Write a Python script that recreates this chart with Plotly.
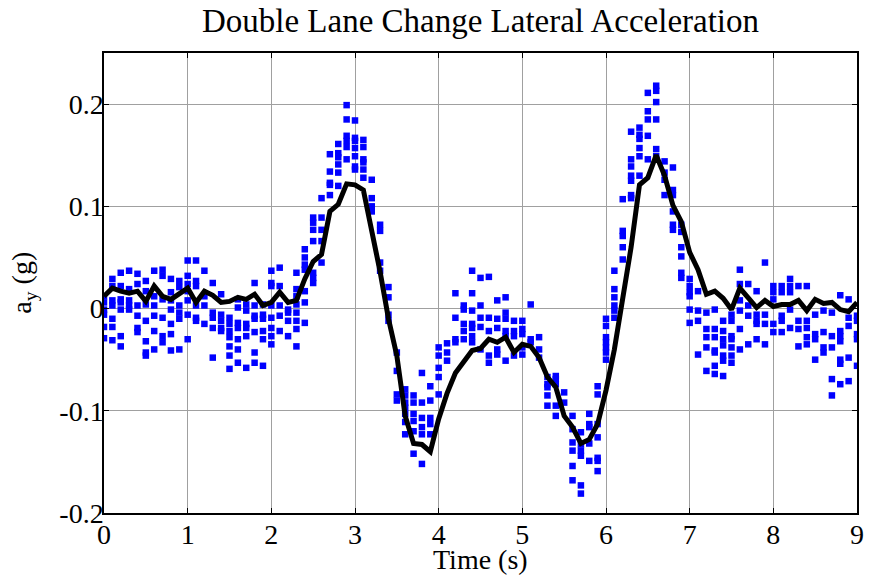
import plotly.graph_objects as go

# Mean lateral acceleration (g), sampled every 0.1 s from 0 to 9 s
mean_time = [round(i * 0.1, 1) for i in range(91)]
mean_ay = [
    0.012, 0.020, 0.017, 0.015, 0.017, 0.007, 0.022, 0.012, 0.009, 0.014,
    0.020, 0.006, 0.017, 0.013, 0.006, 0.007, 0.011, 0.009, 0.014, 0.003,
    0.006, 0.016, 0.006, 0.008, 0.029, 0.046, 0.053, 0.095, 0.102, 0.122,
    0.121, 0.116, 0.078, 0.036, -0.010, -0.046, -0.105, -0.132, -0.133, -0.140,
    -0.108, -0.083, -0.063, -0.051, -0.041, -0.039, -0.030, -0.033, -0.028, -0.043,
    -0.035, -0.037, -0.048, -0.067, -0.077, -0.105, -0.116, -0.132, -0.128, -0.113,
    -0.080, -0.040, 0.008, 0.060, 0.121, 0.128, 0.150, 0.130, 0.101, 0.085,
    0.055, 0.038, 0.014, 0.017, 0.010, -0.001, 0.020, 0.011, 0.001, 0.008,
    0.002, 0.004, 0.004, 0.008, -0.002, 0.009, 0.005, 0.006, -0.001, -0.003,
    0.006,
]

# Individual run samples (g), one list per 0.1 s time step
run_samples = [
    [0.012, 0.006, -0.001, -0.006, -0.018, -0.029],
    [0.029, 0.022, 0.008, 0.003, -0.010, -0.018, -0.031],
    [0.035, 0.022, 0.009, 0.006, -0.001, -0.027, -0.037],
    [0.037, 0.019, 0.008, 0.003, -0.001],
    [0.034, 0.024, 0.003, -0.007, -0.019, -0.023],
    [0.027, 0.017, 0.004, -0.012, -0.032, -0.043, -0.046],
    [0.037, 0.012, 0.003, -0.007, -0.022, -0.040],
    [0.038, 0.032, 0.009, -0.009, -0.027, -0.033],
    [0.029, 0.016, 0.008, -0.001, -0.015, -0.025, -0.041],
    [0.027, 0.021, 0.003, -0.004, -0.010, -0.040],
    [0.047, 0.032, 0.024, 0.017, 0.008, -0.006, -0.030],
    [0.047, 0.027, 0.022, 0.003, -0.009, -0.012],
    [0.037, 0.012, 0.003, -0.015],
    [0.025, -0.004, -0.009, -0.019, -0.048],
    [0.014, -0.006, -0.012, -0.019, -0.022],
    [-0.009, -0.015, -0.022, -0.028, -0.037, -0.046, -0.059],
    [0.009, 0.001, -0.014, -0.019, -0.030, -0.040, -0.053],
    [0.004, -0.002, -0.015, -0.019, -0.027, -0.058],
    [0.025, 0.003, -0.007, -0.010, -0.023, -0.043, -0.053],
    [0.004, -0.006, -0.010, -0.022, -0.030, -0.056],
    [0.037, 0.025, 0.022, 0.003, -0.009, -0.019, -0.027, -0.035],
    [0.040, 0.022, 0.003, -0.007, -0.022],
    [-0.001, -0.004, -0.012, -0.027],
    [0.035, 0.019, 0.012, 0.004, -0.004, -0.012, -0.020, -0.037],
    [0.058, 0.050, 0.043, 0.038, 0.017, 0.006, -0.014],
    [0.089, 0.084, 0.077, 0.066, 0.035, 0.030, 0.025],
    [0.108, 0.089, 0.077, 0.066, 0.045],
    [0.151, 0.134, 0.123, 0.121, 0.111],
    [0.161, 0.152, 0.148, 0.141, 0.133, 0.120],
    [0.199, 0.185, 0.169, 0.164, 0.158, 0.146],
    [0.184, 0.167, 0.164, 0.157, 0.149, 0.139, 0.136],
    [0.165, 0.158, 0.146, 0.143, 0.136, 0.128],
    [0.126, 0.108, 0.100, 0.095],
    [0.082, 0.076, 0.045, 0.037],
    [0.021, 0.011, -0.006, -0.012],
    [-0.043, -0.061, -0.084, -0.090],
    [-0.079, -0.085, -0.092, -0.097, -0.103, -0.111, -0.123],
    [-0.085, -0.092, -0.103, -0.110, -0.120, -0.142],
    [-0.063, -0.092, -0.107, -0.116, -0.123, -0.152],
    [-0.076, -0.090, -0.107, -0.113, -0.123],
    [-0.038, -0.046, -0.058, -0.067, -0.084],
    [-0.034, -0.043, -0.051],
    [0.015, -0.009, -0.030, -0.033],
    [0.003, -0.001, -0.015, -0.022, -0.030],
    [0.037, 0.015, -0.002, -0.015, -0.019, -0.027, -0.033],
    [0.030, 0.003, -0.009, -0.018, -0.040],
    [0.031, -0.009, -0.022, -0.046, -0.053],
    [0.008, -0.010, -0.019, -0.040, -0.045],
    [0.011, -0.004, -0.010, -0.022, -0.027, -0.051],
    [-0.012, -0.022, -0.027, -0.046],
    [-0.012, -0.020, -0.025, -0.038, -0.045],
    [0.004, -0.030, -0.033],
    [-0.028, -0.040, -0.048],
    [-0.067, -0.074, -0.077, -0.085, -0.095],
    [-0.066, -0.069, -0.074, -0.095, -0.105],
    [-0.082, -0.092],
    [-0.105, -0.118, -0.131, -0.139, -0.154, -0.168],
    [-0.121, -0.133, -0.139, -0.144, -0.173, -0.181],
    [-0.103, -0.113, -0.116, -0.132, -0.149],
    [-0.076, -0.084, -0.113, -0.126, -0.146, -0.149, -0.159],
    [-0.010, -0.017, -0.028, -0.033, -0.038, -0.043, -0.050],
    [0.037, 0.019, 0.011, 0.003, -0.002, -0.009],
    [0.107, 0.076, 0.071, 0.060, 0.048],
    [0.173, 0.146, 0.139, 0.130, 0.125, 0.111, 0.108],
    [0.177, 0.170, 0.166, 0.157, 0.149, 0.130],
    [0.211, 0.193, 0.185, 0.169, 0.146],
    [0.218, 0.213, 0.202, 0.185, 0.156, 0.149],
    [0.144, 0.133, 0.126, 0.111],
    [0.138, 0.116, 0.111, 0.095, 0.082, 0.077],
    [0.082, 0.075, 0.060, 0.051, 0.035, 0.030],
    [0.029, 0.022, 0.016, 0.012, -0.001, -0.014],
    [0.017, -0.002, -0.012, -0.045],
    [-0.004, -0.020, -0.028, -0.038, -0.061],
    [-0.001, -0.020, -0.028, -0.041, -0.043, -0.056, -0.064],
    [-0.012, -0.022, -0.030, -0.036, -0.046, -0.051, -0.066],
    [-0.006, -0.012, -0.027, -0.030, -0.038, -0.046, -0.053],
    [0.038, 0.024, 0.008, -0.002, -0.020, -0.040],
    [0.024, 0.003, -0.007, -0.035],
    [0.017, -0.006, -0.012, -0.015, -0.030],
    [0.045, -0.006, -0.015, -0.035],
    [0.022, 0.016, 0.009, -0.015, -0.023],
    [0.022, 0.016, -0.007, -0.012, -0.023],
    [0.029, 0.022, 0.016, -0.001, -0.019],
    [0.022, -0.012, -0.020, -0.037],
    [0.022, -0.012, -0.019, -0.028, -0.035],
    [-0.006, -0.025, -0.030, -0.050],
    [-0.002, -0.023, -0.038, -0.043],
    [-0.004, -0.027, -0.038, -0.069, -0.085],
    [0.013, -0.022, -0.027, -0.032, -0.050, -0.054, -0.074],
    [0.009, -0.009, -0.017, -0.048, -0.071],
    [-0.007, -0.012, -0.025, -0.030, -0.056],
]

x_ticks = [0, 1, 2, 3, 4, 5, 6, 7, 8, 9]
y_ticks = [-0.2, -0.1, 0, 0.1, 0.2]
y_tick_text = ["-0.2", "-0.1", "0", "0.1", "0.2"]

# Flatten the per-step samples into point lists
scatter_t = []
scatter_ay = []
for t, vals in zip(mean_time, run_samples):
    for v in vals:
        scatter_t.append(t)
        scatter_ay.append(v)

serif = "Liberation Serif, Times New Roman, serif"

fig = go.Figure()
fig.add_trace(go.Scatter(
    x=scatter_t, y=scatter_ay, mode="markers",
    marker=dict(symbol="square", size=6.5, color="#0000ff", line=dict(width=0)),
    showlegend=False,
))
fig.add_trace(go.Scatter(
    x=mean_time, y=mean_ay, mode="lines",
    line=dict(color="black", width=5),
    showlegend=False,
))

axis_common = dict(
    showline=True, linecolor="black", linewidth=1.5, mirror="ticks",
    ticks="inside", ticklen=5, tickwidth=1, tickcolor="black",
    showgrid=True, gridcolor="#a0a0a0", gridwidth=1,
    zeroline=False,
    tickfont=dict(family=serif, size=28, color="black"),
)

fig.update_xaxes(range=[0, 9], tickvals=x_ticks, ticklabelstandoff=-4, **axis_common)
fig.update_yaxes(range=[-0.2, 0.25], tickvals=y_ticks, ticktext=y_tick_text,
                 ticklabelstandoff=-7, **axis_common)

fig.update_layout(
    width=871, height=575,
    margin=dict(l=104, r=7, t=53, b=62),
    paper_bgcolor="white", plot_bgcolor="white",
    title=dict(text="Double Lane Change Lateral Acceleration",
               font=dict(family=serif, size=33, color="black"),
               x=0.5, xref="paper", xanchor="center",
               y=1 - 20 / 575, yref="container", yanchor="middle"),
    annotations=[
        dict(text="Time (s)", xref="paper", yref="paper", x=0.5, y=-0.1,
             xanchor="center", yanchor="middle", showarrow=False,
             font=dict(family=serif, size=28, color="black")),
        dict(text="a<sub>y</sub> (g)", xref="paper", yref="paper", x=-0.108, y=0.5,
             xanchor="center", yanchor="middle", textangle=-90, showarrow=False,
             font=dict(family=serif, size=28, color="black")),
    ],
)

fig.write_html("out.html")
